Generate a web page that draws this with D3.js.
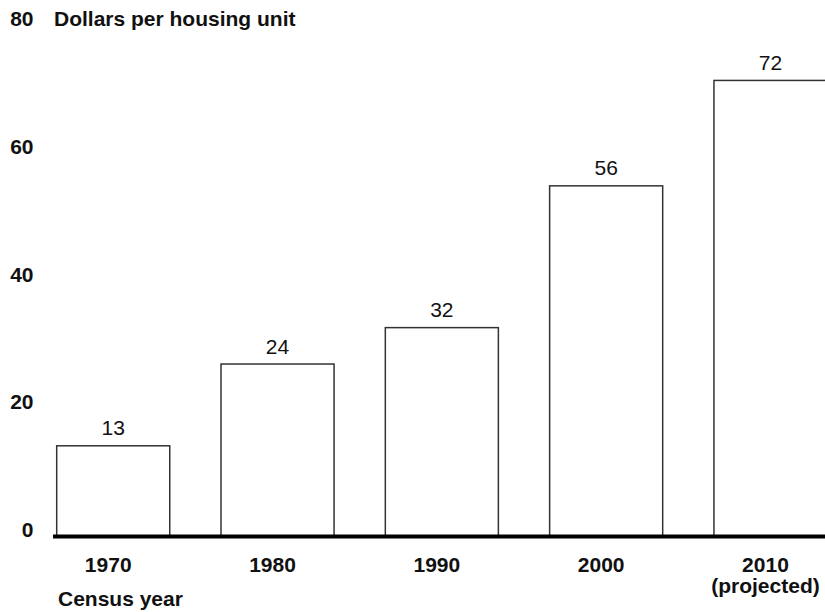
<!DOCTYPE html>
<html>
<head>
<meta charset="utf-8">
<script src="https://cdn.jsdelivr.net/npm/d3@7"></script>
<style>
  html, body { margin: 0; padding: 0; background: #fff; }
  svg { display: block; }
  text { font-family: "Liberation Sans", Arial, Helvetica, sans-serif; fill: #111; }
</style>
</head>
<body>
<svg id="chart" width="825" height="612"></svg>
<script>
// Data
const years = ["1970", "1980", "1990", "2000", "2010"];
const yearSubLabels = ["", "", "", "", "(projected)"];
const valueLabels = [13, 24, 32, 56, 72];          // printed values
const barValues = [14.2, 27.0, 32.7, 54.9, 71.4];  // bar heights as drawn in the reference
const yTicks = [0, 20, 40, 60, 80];
const yTitle = "Dollars per housing unit";
const xTitle = "Census year";

const svg = d3.select("#chart");
const W = 825, H = 612;
const FS = "21px";

const y = d3.scaleLinear().domain([0, 80]).range([536.5, 25.5]);
const x = d3.scaleBand().domain(years).range([56.7, 827]).paddingInner(0.312).paddingOuter(0);

// Y axis labels
const yAxis = d3.axisLeft(y).tickValues(yTicks).tickSize(0).tickPadding(0).tickFormat(d3.format("d"));
const gy = svg.append("g").attr("transform", "translate(33.5,0)").call(yAxis);
gy.select(".domain").remove();
gy.selectAll("text")
  .attr("dy", 0)
  .attr("x", 0)
  .style("font-family", "'Liberation Sans', Arial, sans-serif")
  .style("font-size", FS)
  .style("font-weight", "bold")
  .style("fill", "#111");

// Y title
svg.append("text")
  .attr("x", 54).attr("y", y(80))
  .style("font-size", FS).style("font-weight", "bold")
  .text(yTitle);

const rows = years.map((yr, i) => ({ yr, v: barValues[i], label: valueLabels[i] }));

// Bars
svg.append("g").selectAll("rect")
  .data(rows)
  .join("rect")
  .attr("x", d => x(d.yr))
  .attr("y", d => y(d.v))
  .attr("width", x.bandwidth())
  .attr("height", d => y(0) - y(d.v))
  .attr("fill", "#fff")
  .attr("stroke", "#333")
  .attr("stroke-width", 1.5);

// Value labels
svg.append("g").selectAll("text")
  .data(rows)
  .join("text")
  .attr("x", d => x(d.yr) + x.bandwidth() / 2)
  .attr("y", d => y(d.v) - 10.5)
  .attr("text-anchor", "middle")
  .style("font-size", FS)
  .text(d => d.label);

// Baseline
svg.append("line")
  .attr("x1", 53).attr("x2", W)
  .attr("y1", y(0)).attr("y2", y(0))
  .attr("stroke", "#000").attr("stroke-width", 4);

// X labels
const xg = svg.append("g");
years.forEach((yr, i) => {
  const cx = x(yr) + x.bandwidth() / 2 - 5;
  xg.append("text")
    .attr("x", cx).attr("y", 571.5)
    .attr("text-anchor", "middle")
    .style("font-size", FS).style("font-weight", "bold")
    .text(yr);
  if (yearSubLabels[i]) {
    xg.append("text")
      .attr("x", cx).attr("y", 593)
      .attr("text-anchor", "middle")
      .style("font-size", FS).style("font-weight", "bold")
      .text(yearSubLabels[i]);
  }
});

// X title
svg.append("text")
  .attr("x", 58).attr("y", 606)
  .style("font-size", FS).style("font-weight", "bold")
  .text(xTitle);
</script>
</body>
</html>
